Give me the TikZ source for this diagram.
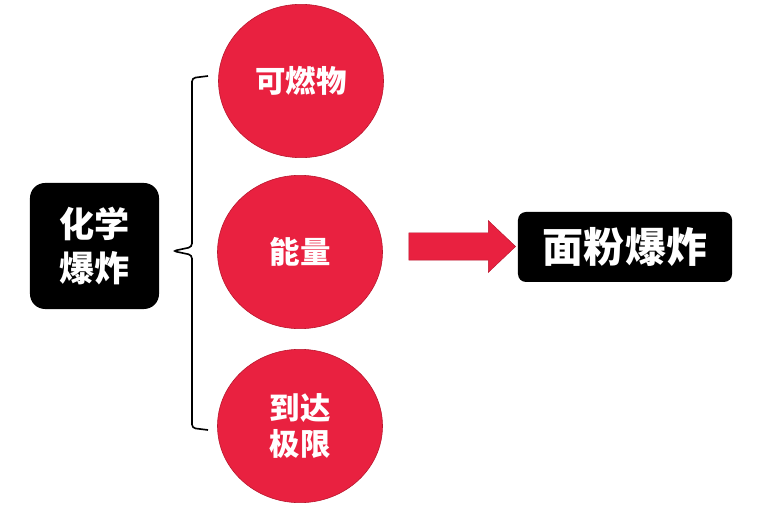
\documentclass[tikz,border=0pt]{standalone}
\usepackage{fontspec}
\newfontfamily\cjk{Noto Sans CJK SC}
\usepackage{xcolor}
\usetikzlibrary{shapes.geometric,shapes.arrows}
\definecolor{dustred}{RGB}{233,33,64}
\definecolor{dustedge}{RGB}{185,22,45}

\begin{document}
\begin{tikzpicture}[
  x=0.03cm, y=-0.03cm,
  every node/.style={font=\cjk\bfseries, text=white},
  blackbox/.style={fill=black, align=center, inner sep=0pt},
  ball/.style={ellipse, fill=dustred, draw=dustedge, line width=0.5pt, minimum width=4.95cm, minimum height=4.6cm, inner sep=0pt, align=center, font=\cjk\bfseries\fontsize{26}{30}\selectfont},
  bigarrow/.style={single arrow, fill=dustred, draw=dustedge, line width=0.4pt, minimum height=3.2cm, inner xsep=0pt, inner ysep=0.405cm, single arrow head extend=0.36cm, single arrow tip angle=87},
]
\useasboundingbox (0,0) rectangle (772,513);
\node[blackbox, rounded corners=0.45cm, minimum width=3.87cm, minimum height=3.78cm, font=\cjk\bfseries\fontsize{30}{37}\selectfont] (chem) at (94.5,246) {化学\\爆炸};
\node[ball] (fuel) at (301,81) {可燃物};
\node[ball] (energy) at (300,252) {能量};
\node[ball] (limit) at (300,426) {到达\\极限};
\node[bigarrow] (arr) at (455,246.5) {};
\node[blackbox, rounded corners=0.24cm, minimum width=6.42cm, minimum height=2.1cm, font=\cjk\bfseries\fontsize{35}{40}\selectfont] (flour) at (625,247) {面粉爆炸};
% brace
\coordinate (bt) at (208,76);
\coordinate (bm) at (173,251);
\coordinate (bb) at (208,430);
\draw[line width=1.4pt, rounded corners=3pt] (bt) -- (192,78) -- (192,247) -- (bm) -- (192,255) -- (192,428) -- (bb);
\end{tikzpicture}
\end{document}
